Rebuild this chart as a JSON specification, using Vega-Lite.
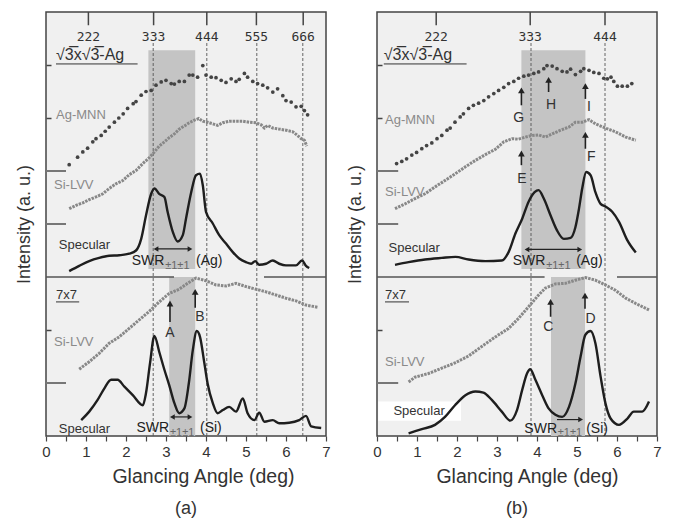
{
"$schema":"https://vega.github.io/schema/vega-lite/v6.json",
"padding":{"left":14,"top":10,"right":5,"bottom":3},
"config":{"view":{"fill":"#f0f0f0","stroke":"#444","strokeWidth":1.5},"font":"Liberation Sans","concat":{"spacing":14}},
"datasets":{
"a":[
{"k":"shade","x":2.56,"x2":3.73,"y":3.15,"y2":7.28},
{"k":"shade","x":3.08,"x2":3.73,"y":0,"y2":3},
{"k":"dash","x":2.68,"y":0,"y2":7.45},{"k":"dash","x":4.02,"y":0,"y2":7.45},{"k":"dash","x":5.27,"y":0,"y2":7.45},{"k":"dash","x":6.42,"y":0,"y2":7.45},
{"k":"div","x":0,"x2":3.2,"y":3},{"k":"div","x":5.45,"x2":7,"y":3},
{"k":"lt","x":0,"x2":0.5,"y":1},{"k":"lt","x":0,"x2":0.5,"y":4},{"k":"lt","x":0,"x2":0.5,"y":5},
{"k":"tt","x":1.06,"y":8,"y2":7.75},{"k":"tt","x":2.69,"y":8,"y2":7.75},{"k":"tt","x":4.02,"y":8,"y2":7.75},{"k":"tt","x":5.26,"y":8,"y2":7.75},{"k":"tt","x":6.43,"y":8,"y2":7.75},
{"k":"tl","x":1.06,"y":7.53,"t":"222"},{"k":"tl","x":2.69,"y":7.53,"t":"333"},{"k":"tl","x":4.02,"y":7.53,"t":"444"},{"k":"tl","x":5.26,"y":7.53,"t":"555"},{"k":"tl","x":6.43,"y":7.53,"t":"666"},
{"k":"ul","x":0.25,"x2":2.29,"y":7.02},{"k":"ul","x":0.25,"x2":0.83,"y":2.53},
{"k":"ag","x":0.58,"y":5.12},{"k":"ag","x":0.79,"y":5.26},{"k":"ag","x":0.92,"y":5.36},{"k":"ag","x":1.04,"y":5.43},{"k":"ag","x":1.17,"y":5.55},{"k":"ag","x":1.25,"y":5.61},{"k":"ag","x":1.38,"y":5.67},{"k":"ag","x":1.48,"y":5.75},{"k":"ag","x":1.58,"y":5.83},{"k":"ag","x":1.71,"y":5.92},{"k":"ag","x":1.82,"y":6.0},{"k":"ag","x":1.93,"y":6.08},{"k":"ag","x":2.04,"y":6.18},{"k":"ag","x":2.18,"y":6.27},{"k":"ag","x":2.25,"y":6.31},{"k":"ag","x":2.38,"y":6.43},{"k":"ag","x":2.5,"y":6.5},{"k":"ag","x":2.63,"y":6.52},{"k":"ag","x":2.75,"y":6.62},{"k":"ag","x":2.88,"y":6.68},{"k":"ag","x":3.0,"y":6.71},{"k":"ag","x":3.13,"y":6.65},{"k":"ag","x":3.21,"y":6.64},{"k":"ag","x":3.33,"y":6.69},{"k":"ag","x":3.46,"y":6.69},{"k":"ag","x":3.58,"y":6.81},{"k":"ag","x":3.67,"y":6.81},{"k":"ag","x":3.79,"y":6.77},{"k":"ag","x":3.92,"y":6.99},{"k":"ag","x":4.0,"y":6.81},{"k":"ag","x":4.13,"y":6.77},{"k":"ag","x":4.25,"y":6.76},{"k":"ag","x":4.38,"y":6.71},{"k":"ag","x":4.5,"y":6.67},{"k":"ag","x":4.63,"y":6.74},{"k":"ag","x":4.75,"y":6.69},{"k":"ag","x":4.83,"y":6.73},{"k":"ag","x":4.96,"y":6.84},{"k":"ag","x":5.04,"y":6.77},{"k":"ag","x":5.17,"y":6.69},{"k":"ag","x":5.29,"y":6.65},{"k":"ag","x":5.42,"y":6.62},{"k":"ag","x":5.54,"y":6.57},{"k":"ag","x":5.67,"y":6.49},{"k":"ag","x":5.79,"y":6.55},{"k":"ag","x":5.92,"y":6.42},{"k":"ag","x":6.0,"y":6.33},{"k":"ag","x":6.13,"y":6.3},{"k":"ag","x":6.25,"y":6.21},{"k":"ag","x":6.38,"y":6.22},{"k":"ag","x":6.46,"y":6.14},{"k":"ag","x":6.54,"y":6.06},
{"k":"si","g":"t","x":0.58,"y":4.29},{"k":"si","g":"t","x":0.75,"y":4.35},{"k":"si","g":"t","x":0.92,"y":4.4},{"k":"si","g":"t","x":1.08,"y":4.46},{"k":"si","g":"t","x":1.25,"y":4.51},{"k":"si","g":"t","x":1.42,"y":4.57},{"k":"si","g":"t","x":1.58,"y":4.67},{"k":"si","g":"t","x":1.75,"y":4.76},{"k":"si","g":"t","x":1.92,"y":4.82},{"k":"si","g":"t","x":2.08,"y":4.93},{"k":"si","g":"t","x":2.25,"y":5.01},{"k":"si","g":"t","x":2.42,"y":5.14},{"k":"si","g":"t","x":2.58,"y":5.25},{"k":"si","g":"t","x":2.71,"y":5.36},{"k":"si","g":"t","x":2.83,"y":5.47},{"k":"si","g":"t","x":2.96,"y":5.55},{"k":"si","g":"t","x":3.08,"y":5.63},{"k":"si","g":"t","x":3.21,"y":5.7},{"k":"si","g":"t","x":3.33,"y":5.79},{"k":"si","g":"t","x":3.46,"y":5.85},{"k":"si","g":"t","x":3.58,"y":5.91},{"k":"si","g":"t","x":3.71,"y":5.96},{"k":"si","g":"t","x":3.82,"y":5.99},{"k":"si","g":"t","x":3.92,"y":5.94},{"k":"si","g":"t","x":4.04,"y":5.92},{"k":"si","g":"t","x":4.17,"y":5.89},{"k":"si","g":"t","x":4.29,"y":5.86},{"k":"si","g":"t","x":4.42,"y":5.91},{"k":"si","g":"t","x":4.58,"y":5.94},{"k":"si","g":"t","x":4.75,"y":5.94},{"k":"si","g":"t","x":4.92,"y":5.94},{"k":"si","g":"t","x":5.08,"y":5.92},{"k":"si","g":"t","x":5.25,"y":5.91},{"k":"si","g":"t","x":5.38,"y":5.87},{"k":"si","g":"t","x":5.46,"y":5.81},{"k":"si","g":"t","x":5.54,"y":5.86},{"k":"si","g":"t","x":5.67,"y":5.81},{"k":"si","g":"t","x":5.83,"y":5.79},{"k":"si","g":"t","x":6.0,"y":5.77},{"k":"si","g":"t","x":6.17,"y":5.74},{"k":"si","g":"t","x":6.29,"y":5.67},{"k":"si","g":"t","x":6.38,"y":5.61},{"k":"si","g":"t","x":6.46,"y":5.58},{"k":"si","g":"t","x":6.52,"y":5.47},
{"k":"si","g":"b","x":0.83,"y":1.26},{"k":"si","g":"b","x":1.08,"y":1.4},{"k":"si","g":"b","x":1.33,"y":1.56},{"k":"si","g":"b","x":1.58,"y":1.75},{"k":"si","g":"b","x":1.83,"y":1.87},{"k":"si","g":"b","x":2.08,"y":2.03},{"k":"si","g":"b","x":2.33,"y":2.19},{"k":"si","g":"b","x":2.58,"y":2.35},{"k":"si","g":"b","x":2.83,"y":2.53},{"k":"si","g":"b","x":3.08,"y":2.69},{"k":"si","g":"b","x":3.33,"y":2.77},{"k":"si","g":"b","x":3.54,"y":2.88},{"k":"si","g":"b","x":3.75,"y":2.98},{"k":"si","g":"b","x":4.0,"y":2.93},{"k":"si","g":"b","x":4.25,"y":2.85},{"k":"si","g":"b","x":4.5,"y":2.83},{"k":"si","g":"b","x":4.75,"y":2.88},{"k":"si","g":"b","x":5.0,"y":2.82},{"k":"si","g":"b","x":5.25,"y":2.77},{"k":"si","g":"b","x":5.5,"y":2.72},{"k":"si","g":"b","x":5.75,"y":2.66},{"k":"si","g":"b","x":6.0,"y":2.6},{"k":"si","g":"b","x":6.25,"y":2.55},{"k":"si","g":"b","x":6.5,"y":2.47},{"k":"si","g":"b","x":6.79,"y":2.43},
{"k":"spec","g":"t","x":0.58,"y":3.11},{"k":"spec","g":"t","x":0.83,"y":3.21},{"k":"spec","g":"t","x":1.08,"y":3.3},{"k":"spec","g":"t","x":1.33,"y":3.36},{"k":"spec","g":"t","x":1.58,"y":3.4},{"k":"spec","g":"t","x":1.83,"y":3.41},{"k":"spec","g":"t","x":2.08,"y":3.44},{"k":"spec","g":"t","x":2.25,"y":3.5},{"k":"spec","g":"t","x":2.38,"y":3.72},{"k":"spec","g":"t","x":2.5,"y":4.16},{"k":"spec","g":"t","x":2.63,"y":4.57},{"k":"spec","g":"t","x":2.71,"y":4.67},{"k":"spec","g":"t","x":2.83,"y":4.57},{"k":"spec","g":"t","x":2.96,"y":4.51},{"k":"spec","g":"t","x":3.04,"y":4.23},{"k":"spec","g":"t","x":3.17,"y":3.85},{"k":"spec","g":"t","x":3.29,"y":3.67},{"k":"spec","g":"t","x":3.42,"y":3.79},{"k":"spec","g":"t","x":3.5,"y":4.1},{"k":"spec","g":"t","x":3.63,"y":4.6},{"k":"spec","g":"t","x":3.75,"y":4.92},{"k":"spec","g":"t","x":3.85,"y":4.95},{"k":"spec","g":"t","x":3.92,"y":4.73},{"k":"spec","g":"t","x":4.0,"y":4.23},{"k":"spec","g":"t","x":4.17,"y":4.01},{"k":"spec","g":"t","x":4.33,"y":3.79},{"k":"spec","g":"t","x":4.5,"y":3.63},{"k":"spec","g":"t","x":4.67,"y":3.47},{"k":"spec","g":"t","x":4.83,"y":3.35},{"k":"spec","g":"t","x":5.0,"y":3.28},{"k":"spec","g":"t","x":5.13,"y":3.25},{"k":"spec","g":"t","x":5.23,"y":3.3},{"k":"spec","g":"t","x":5.33,"y":3.23},{"k":"spec","g":"t","x":5.5,"y":3.25},{"k":"spec","g":"t","x":5.67,"y":3.31},{"k":"spec","g":"t","x":5.83,"y":3.25},{"k":"spec","g":"t","x":6.0,"y":3.22},{"k":"spec","g":"t","x":6.25,"y":3.22},{"k":"spec","g":"t","x":6.4,"y":3.31},{"k":"spec","g":"t","x":6.5,"y":3.21},{"k":"spec","g":"t","x":6.58,"y":3.17},
{"k":"spec","g":"b","x":0.88,"y":0.3},{"k":"spec","g":"b","x":1.08,"y":0.46},{"k":"spec","g":"b","x":1.29,"y":0.68},{"k":"spec","g":"b","x":1.46,"y":0.9},{"k":"spec","g":"b","x":1.63,"y":1.06},{"k":"spec","g":"b","x":1.79,"y":1.06},{"k":"spec","g":"b","x":1.96,"y":0.93},{"k":"spec","g":"b","x":2.17,"y":0.77},{"k":"spec","g":"b","x":2.42,"y":0.58},{"k":"spec","g":"b","x":2.5,"y":0.81},{"k":"spec","g":"b","x":2.6,"y":1.37},{"k":"spec","g":"b","x":2.71,"y":1.89},{"k":"spec","g":"b","x":2.83,"y":1.59},{"k":"spec","g":"b","x":2.96,"y":1.25},{"k":"spec","g":"b","x":3.08,"y":0.96},{"k":"spec","g":"b","x":3.21,"y":0.62},{"k":"spec","g":"b","x":3.33,"y":0.43},{"k":"spec","g":"b","x":3.46,"y":0.52},{"k":"spec","g":"b","x":3.57,"y":0.99},{"k":"spec","g":"b","x":3.67,"y":1.62},{"k":"spec","g":"b","x":3.77,"y":1.98},{"k":"spec","g":"b","x":3.85,"y":1.87},{"k":"spec","g":"b","x":3.96,"y":1.37},{"k":"spec","g":"b","x":4.04,"y":0.99},{"k":"spec","g":"b","x":4.17,"y":0.62},{"k":"spec","g":"b","x":4.29,"y":0.43},{"k":"spec","g":"b","x":4.42,"y":0.49},{"k":"spec","g":"b","x":4.58,"y":0.55},{"k":"spec","g":"b","x":4.75,"y":0.46},{"k":"spec","g":"b","x":4.92,"y":0.71},{"k":"spec","g":"b","x":5.04,"y":0.43},{"k":"spec","g":"b","x":5.21,"y":0.3},{"k":"spec","g":"b","x":5.33,"y":0.44},{"k":"spec","g":"b","x":5.46,"y":0.27},{"k":"spec","g":"b","x":5.67,"y":0.3},{"k":"spec","g":"b","x":5.83,"y":0.24},{"k":"spec","g":"b","x":6.08,"y":0.25},{"k":"spec","g":"b","x":6.33,"y":0.3},{"k":"spec","g":"b","x":6.5,"y":0.38},{"k":"spec","g":"b","x":6.63,"y":0.18},{"k":"spec","g":"b","x":6.88,"y":0.15},
{"k":"ar","x":3.1,"y":2.15,"y2":2.5},{"k":"tu","x":3.1,"y":2.5},
{"k":"ar","x":3.73,"y":2.42,"y2":2.72},{"k":"tu","x":3.73,"y":2.72},
{"k":"let","x":3.1,"y":1.94,"t":"A"},{"k":"let","x":3.85,"y":2.25,"t":"B"},
{"k":"ah","x":2.75,"x2":3.6,"y":3.53},{"k":"tL","x":2.75,"y":3.53},{"k":"tR","x":3.6,"y":3.53},
{"k":"ah","x":3.16,"x2":3.6,"y":0.36},{"k":"tL","x":3.16,"y":0.36},{"k":"tR","x":3.6,"y":0.36},
{"k":"sw","x":2.96,"y":3.3,"t":"SWR"},{"k":"ss","x":2.98,"y":3.21,"t":"±1±1"},{"k":"sr","x":3.75,"y":3.3,"t":"(Ag)"},
{"k":"sw","x":3.08,"y":0.15,"t":"SWR"},{"k":"ss","x":3.1,"y":0.06,"t":"±1±1"},{"k":"sr","x":3.85,"y":0.15,"t":"(Si)"},
{"k":"lg","x":0.25,"y":6.06,"t":"Ag-MNN"},{"k":"lg","x":0.2,"y":4.73,"t":"Si-LVV"},{"k":"lg","x":0.2,"y":1.78,"t":"Si-LVV"},
{"k":"lh","x":0.25,"y":7.18,"t":"√3̅x√3̅-Ag"},{"k":"ld","x":0.32,"y":3.61,"t":"Specular"},{"k":"ld","x":0.25,"y":2.66,"t":"7x7"},{"k":"ld","x":0.32,"y":0.14,"t":"Specular"}
],
"b":[
{"k":"shade","x":3.61,"x2":5.21,"y":3.15,"y2":7.28},
{"k":"shade","x":4.35,"x2":5.2,"y":0,"y2":3},
{"k":"wbox","x":0.03,"x2":2.1,"y":0.29,"y2":0.65},
{"k":"dash","x":3.85,"y":0,"y2":7.45},{"k":"dash","x":5.7,"y":0,"y2":7.45},
{"k":"div","x":0,"x2":4.19,"y":3},{"k":"div","x":6.0,"x2":7,"y":3},
{"k":"lt","x":0,"x2":0.53,"y":1},{"k":"lt","x":0,"x2":0.53,"y":4},{"k":"lt","x":0,"x2":0.53,"y":5},
{"k":"tt","x":1.48,"y":8,"y2":7.75},{"k":"tt","x":3.83,"y":8,"y2":7.75},{"k":"tt","x":5.7,"y":8,"y2":7.75},
{"k":"tl","x":1.48,"y":7.53,"t":"222"},{"k":"tl","x":3.83,"y":7.53,"t":"333"},{"k":"tl","x":5.7,"y":7.53,"t":"444"},
{"k":"ul","x":0.17,"x2":2.24,"y":7.02},{"k":"ul","x":0.2,"x2":0.8,"y":2.53},
{"k":"ag","x":0.49,"y":5.14},{"k":"ag","x":0.62,"y":5.18},{"k":"ag","x":0.74,"y":5.23},{"k":"ag","x":0.87,"y":5.3},{"k":"ag","x":0.99,"y":5.35},{"k":"ag","x":1.12,"y":5.42},{"k":"ag","x":1.24,"y":5.48},{"k":"ag","x":1.37,"y":5.53},{"k":"ag","x":1.5,"y":5.61},{"k":"ag","x":1.62,"y":5.67},{"k":"ag","x":1.75,"y":5.77},{"k":"ag","x":1.83,"y":5.81},{"k":"ag","x":1.95,"y":5.92},{"k":"ag","x":2.08,"y":6.02},{"k":"ag","x":2.16,"y":6.08},{"k":"ag","x":2.29,"y":6.18},{"k":"ag","x":2.41,"y":6.24},{"k":"ag","x":2.54,"y":6.28},{"k":"ag","x":2.67,"y":6.33},{"k":"ag","x":2.79,"y":6.4},{"k":"ag","x":2.92,"y":6.46},{"k":"ag","x":3.04,"y":6.52},{"k":"ag","x":3.17,"y":6.58},{"k":"ag","x":3.29,"y":6.65},{"k":"ag","x":3.42,"y":6.69},{"k":"ag","x":3.54,"y":6.75},{"k":"ag","x":3.67,"y":6.79},{"k":"ag","x":3.79,"y":6.81},{"k":"ag","x":3.92,"y":6.84},{"k":"ag","x":4.04,"y":6.87},{"k":"ag","x":4.17,"y":6.93},{"k":"ag","x":4.25,"y":6.99},{"k":"ag","x":4.38,"y":6.98},{"k":"ag","x":4.5,"y":6.93},{"k":"ag","x":4.63,"y":6.88},{"k":"ag","x":4.75,"y":6.87},{"k":"ag","x":4.84,"y":6.92},{"k":"ag","x":4.96,"y":6.82},{"k":"ag","x":5.09,"y":6.88},{"k":"ag","x":5.17,"y":6.93},{"k":"ag","x":5.3,"y":6.9},{"k":"ag","x":5.42,"y":6.86},{"k":"ag","x":5.55,"y":6.84},{"k":"ag","x":5.67,"y":6.75},{"k":"ag","x":5.76,"y":6.74},{"k":"ag","x":5.85,"y":6.77},{"k":"ag","x":5.92,"y":6.69},{"k":"ag","x":6.01,"y":6.6},{"k":"ag","x":6.13,"y":6.6},{"k":"ag","x":6.26,"y":6.6},{"k":"ag","x":6.37,"y":6.65},
{"k":"si","g":"t","x":0.45,"y":4.29},{"k":"si","g":"t","x":0.7,"y":4.38},{"k":"si","g":"t","x":0.95,"y":4.48},{"k":"si","g":"t","x":1.2,"y":4.57},{"k":"si","g":"t","x":1.45,"y":4.7},{"k":"si","g":"t","x":1.7,"y":4.82},{"k":"si","g":"t","x":1.96,"y":4.95},{"k":"si","g":"t","x":2.21,"y":5.08},{"k":"si","g":"t","x":2.46,"y":5.2},{"k":"si","g":"t","x":2.71,"y":5.31},{"k":"si","g":"t","x":2.96,"y":5.41},{"k":"si","g":"t","x":3.17,"y":5.55},{"k":"si","g":"t","x":3.38,"y":5.61},{"k":"si","g":"t","x":3.54,"y":5.6},{"k":"si","g":"t","x":3.71,"y":5.64},{"k":"si","g":"t","x":3.88,"y":5.67},{"k":"si","g":"t","x":4.04,"y":5.68},{"k":"si","g":"t","x":4.21,"y":5.64},{"k":"si","g":"t","x":4.38,"y":5.7},{"k":"si","g":"t","x":4.59,"y":5.77},{"k":"si","g":"t","x":4.8,"y":5.83},{"k":"si","g":"t","x":4.96,"y":5.92},{"k":"si","g":"t","x":5.13,"y":5.92},{"k":"si","g":"t","x":5.3,"y":5.97},{"k":"si","g":"t","x":5.46,"y":5.89},{"k":"si","g":"t","x":5.71,"y":5.81},{"k":"si","g":"t","x":5.96,"y":5.74},{"k":"si","g":"t","x":6.22,"y":5.64},{"k":"si","g":"t","x":6.47,"y":5.58},
{"k":"si","g":"b","x":0.79,"y":1.02},{"k":"si","g":"b","x":0.95,"y":1.11},{"k":"si","g":"b","x":1.29,"y":1.18},{"k":"si","g":"b","x":1.62,"y":1.28},{"k":"si","g":"b","x":1.95,"y":1.38},{"k":"si","g":"b","x":2.29,"y":1.51},{"k":"si","g":"b","x":2.62,"y":1.69},{"k":"si","g":"b","x":2.96,"y":1.87},{"k":"si","g":"b","x":3.29,"y":2.03},{"k":"si","g":"b","x":3.54,"y":2.22},{"k":"si","g":"b","x":3.79,"y":2.44},{"k":"si","g":"b","x":4.04,"y":2.66},{"k":"si","g":"b","x":4.21,"y":2.79},{"k":"si","g":"b","x":4.46,"y":2.87},{"k":"si","g":"b","x":4.71,"y":2.88},{"k":"si","g":"b","x":4.96,"y":2.94},{"k":"si","g":"b","x":5.21,"y":2.99},{"k":"si","g":"b","x":5.46,"y":2.94},{"k":"si","g":"b","x":5.71,"y":2.85},{"k":"si","g":"b","x":5.96,"y":2.75},{"k":"si","g":"b","x":6.22,"y":2.6},{"k":"si","g":"b","x":6.47,"y":2.5},{"k":"si","g":"b","x":6.8,"y":2.38},
{"k":"spec","g":"t","x":0.45,"y":3.23},{"k":"spec","g":"t","x":0.79,"y":3.28},{"k":"spec","g":"t","x":1.2,"y":3.33},{"k":"spec","g":"t","x":1.62,"y":3.36},{"k":"spec","g":"t","x":1.96,"y":3.38},{"k":"spec","g":"t","x":2.29,"y":3.33},{"k":"spec","g":"t","x":2.71,"y":3.3},{"k":"spec","g":"t","x":3.12,"y":3.31},{"k":"spec","g":"t","x":3.29,"y":3.47},{"k":"spec","g":"t","x":3.46,"y":3.82},{"k":"spec","g":"t","x":3.63,"y":4.1},{"k":"spec","g":"t","x":3.79,"y":4.42},{"k":"spec","g":"t","x":3.94,"y":4.6},{"k":"spec","g":"t","x":4.04,"y":4.64},{"k":"spec","g":"t","x":4.17,"y":4.48},{"k":"spec","g":"t","x":4.34,"y":4.16},{"k":"spec","g":"t","x":4.5,"y":3.88},{"k":"spec","g":"t","x":4.67,"y":3.72},{"k":"spec","g":"t","x":4.84,"y":3.74},{"k":"spec","g":"t","x":4.96,"y":3.94},{"k":"spec","g":"t","x":5.05,"y":4.29},{"k":"spec","g":"t","x":5.13,"y":4.67},{"k":"spec","g":"t","x":5.23,"y":4.98},{"k":"spec","g":"t","x":5.34,"y":4.92},{"k":"spec","g":"t","x":5.46,"y":4.6},{"k":"spec","g":"t","x":5.59,"y":4.38},{"k":"spec","g":"t","x":5.71,"y":4.33},{"k":"spec","g":"t","x":5.88,"y":4.23},{"k":"spec","g":"t","x":6.05,"y":4.04},{"k":"spec","g":"t","x":6.26,"y":3.69},{"k":"spec","g":"t","x":6.47,"y":3.46},
{"k":"spec","g":"b","x":0.79,"y":0.05},{"k":"spec","g":"b","x":1.12,"y":0.13},{"k":"spec","g":"b","x":1.45,"y":0.21},{"k":"spec","g":"b","x":1.7,"y":0.36},{"k":"spec","g":"b","x":1.95,"y":0.58},{"k":"spec","g":"b","x":2.21,"y":0.77},{"k":"spec","g":"b","x":2.46,"y":0.84},{"k":"spec","g":"b","x":2.66,"y":0.82},{"k":"spec","g":"b","x":2.87,"y":0.68},{"k":"spec","g":"b","x":3.12,"y":0.46},{"k":"spec","g":"b","x":3.33,"y":0.29},{"k":"spec","g":"b","x":3.5,"y":0.49},{"k":"spec","g":"b","x":3.63,"y":0.87},{"k":"spec","g":"b","x":3.75,"y":1.18},{"k":"spec","g":"b","x":3.83,"y":1.26},{"k":"spec","g":"b","x":3.96,"y":1.06},{"k":"spec","g":"b","x":4.13,"y":0.77},{"k":"spec","g":"b","x":4.29,"y":0.52},{"k":"spec","g":"b","x":4.46,"y":0.4},{"k":"spec","g":"b","x":4.63,"y":0.36},{"k":"spec","g":"b","x":4.8,"y":0.55},{"k":"spec","g":"b","x":4.96,"y":0.99},{"k":"spec","g":"b","x":5.09,"y":1.5},{"k":"spec","g":"b","x":5.21,"y":1.91},{"k":"spec","g":"b","x":5.34,"y":1.98},{"k":"spec","g":"b","x":5.46,"y":1.75},{"k":"spec","g":"b","x":5.59,"y":1.12},{"k":"spec","g":"b","x":5.71,"y":0.62},{"k":"spec","g":"b","x":5.84,"y":0.33},{"k":"spec","g":"b","x":6.05,"y":0.21},{"k":"spec","g":"b","x":6.26,"y":0.33},{"k":"spec","g":"b","x":6.42,"y":0.46},{"k":"spec","g":"b","x":6.63,"y":0.46},{"k":"spec","g":"b","x":6.8,"y":0.65},
{"k":"ar","x":3.61,"y":6.24,"y2":6.52},{"k":"tu","x":3.61,"y":6.52},
{"k":"ar","x":4.29,"y":6.49,"y2":6.72},{"k":"tu","x":4.29,"y":6.72},
{"k":"ar","x":5.21,"y":6.36,"y2":6.6},{"k":"tu","x":5.21,"y":6.6},
{"k":"ar","x":3.61,"y":5.11,"y2":5.33},{"k":"tu","x":3.61,"y":5.33},
{"k":"ar","x":5.21,"y":5.42,"y2":5.68},{"k":"tu","x":5.21,"y":5.68},
{"k":"ar","x":4.34,"y":2.25,"y2":2.53},{"k":"tu","x":4.34,"y":2.53},
{"k":"ar","x":5.2,"y":2.4,"y2":2.65},{"k":"tu","x":5.2,"y":2.65},
{"k":"let","x":3.54,"y":6.0,"t":"G"},{"k":"let","x":4.35,"y":6.25,"t":"H"},{"k":"let","x":5.3,"y":6.21,"t":"I"},{"k":"let","x":3.62,"y":4.85,"t":"E"},{"k":"let","x":5.36,"y":5.26,"t":"F"},{"k":"let","x":4.28,"y":2.06,"t":"C"},{"k":"let","x":5.34,"y":2.21,"t":"D"},
{"k":"ah","x":3.75,"x2":5.07,"y":3.52},{"k":"tL","x":3.75,"y":3.52},{"k":"tR","x":5.07,"y":3.52},
{"k":"ah","x":4.5,"x2":5.09,"y":0.31},{"k":"tR","x":5.09,"y":0.31},
{"k":"sw","x":4.21,"y":3.3,"t":"SWR"},{"k":"ss","x":4.23,"y":3.21,"t":"±1±1"},{"k":"sr","x":4.98,"y":3.3,"t":"(Ag)"},
{"k":"sw","x":4.5,"y":0.14,"t":"SWR"},{"k":"ss","x":4.52,"y":0.05,"t":"±1±1"},{"k":"sr","x":5.23,"y":0.14,"t":"(Si)"},
{"k":"lg","x":0.2,"y":5.96,"t":"Ag-MNN"},{"k":"lg","x":0.2,"y":4.6,"t":"Si-LVV"},{"k":"lg","x":0.2,"y":1.4,"t":"Si-LVV"},
{"k":"lh","x":0.17,"y":7.18,"t":"√3̅x√3̅-Ag"},{"k":"ld","x":0.29,"y":3.55,"t":"Specular"},{"k":"ld","x":0.2,"y":2.66,"t":"7x7"},{"k":"ld","x":0.41,"y":0.48,"t":"Specular"}
]
},
"hconcat":[
{
"width":280,"height":424,
"data":{"name":"a"},
"title":{"text":"(a)","orient":"bottom","anchor":"middle","fontSize":18,"fontWeight":"normal","color":"#333","offset":14},
"encoding":{
"x":{"field":"x","type":"quantitative","scale":{"domain":[0,7],"nice":false,"zero":false},"axis":{"title":"Glancing Angle (deg)","titleX":157,"titleFontSize":19.5,"titleFontWeight":"normal","titleColor":"#333","labelFontSize":15,"labelColor":"#333","values":[0,0.5,1,1.5,2,2.5,3,3.5,4,4.5,5,5.5,6,6.5,7],"labelExpr":"datum.value % 1 === 0 ? format(datum.value, 'd') : ''","tickSize":5,"tickColor":"#444","tickWidth":1.2,"domain":false,"grid":false,"labelPadding":3,"titlePadding":8,"labelFlush":false}},
"y":{"field":"y","type":"quantitative","scale":{"domain":[0,8],"nice":false,"zero":false},"axis":{"title":"Intensity (a. u.)","titleFontSize":18,"titleFontWeight":"normal","titleColor":"#333","labels":false,"domain":false,"grid":false,"values":[2,6,7],"tickSize":-5,"tickColor":"#444","tickWidth":1.5,"titlePadding":12}}
},
"layer":[
{"transform":[{"filter":"datum.k==='shade'"}],"mark":{"type":"rect","color":"#c4c4c4"},"encoding":{"x2":{"field":"x2"},"y2":{"field":"y2"}}},
{"transform":[{"filter":"datum.k==='wbox'"}],"mark":{"type":"rect","color":"#ffffff"},"encoding":{"x2":{"field":"x2"},"y2":{"field":"y2"}}},
{"transform":[{"filter":"datum.k==='dash'"}],"mark":{"type":"rule","color":"#555","strokeWidth":0.9,"strokeDash":[3,2]},"encoding":{"y2":{"field":"y2"}}},
{"transform":[{"filter":"datum.k==='div'"}],"mark":{"type":"rule","color":"#555","strokeWidth":1.6},"encoding":{"x2":{"field":"x2"}}},
{"transform":[{"filter":"datum.k==='lt'"}],"mark":{"type":"rule","color":"#777","strokeWidth":2},"encoding":{"x2":{"field":"x2"}}},
{"transform":[{"filter":"datum.k==='tt'"}],"mark":{"type":"rule","color":"#444","strokeWidth":1.5},"encoding":{"y2":{"field":"y2"}}},
{"transform":[{"filter":"datum.k==='ul'"}],"mark":{"type":"rule","color":"#333","strokeWidth":1},"encoding":{"x2":{"field":"x2"}}},
{"transform":[{"filter":"datum.k==='tl'"}],"mark":{"type":"text","fontSize":13,"color":"#333","align":"center","baseline":"middle","font":"DejaVu Sans Mono"},"encoding":{"text":{"field":"t"}}},
{"transform":[{"filter":"datum.k==='ag'"}],"mark":{"type":"point","filled":true,"size":14,"color":"#444","opacity":1},"encoding":{}},
{"transform":[{"filter":"datum.k==='si'"}],"mark":{"type":"line","color":"#888","strokeWidth":3,"strokeDash":[2.5,1]},"encoding":{"detail":{"field":"g"}}},
{"transform":[{"filter":"datum.k==='spec'"}],"mark":{"type":"line","color":"#1e1e1e","strokeWidth":2.4,"interpolate":"monotone"},"encoding":{"detail":{"field":"g"}}},
{"transform":[{"filter":"datum.k==='ar'"}],"mark":{"type":"rule","color":"#222","strokeWidth":1.6},"encoding":{"y2":{"field":"y2"}}},
{"transform":[{"filter":"datum.k==='ah'"}],"mark":{"type":"rule","color":"#222","strokeWidth":1.2},"encoding":{"x2":{"field":"x2"}}},
{"transform":[{"filter":"datum.k==='tu'"}],"mark":{"type":"point","shape":"triangle-up","filled":true,"size":45,"color":"#222","opacity":1},"encoding":{}},
{"transform":[{"filter":"datum.k==='tL'"}],"mark":{"type":"point","shape":"triangle-left","filled":true,"size":30,"color":"#222","opacity":1},"encoding":{}},
{"transform":[{"filter":"datum.k==='tR'"}],"mark":{"type":"point","shape":"triangle-right","filled":true,"size":30,"color":"#222","opacity":1},"encoding":{}},
{"transform":[{"filter":"datum.k==='lg'"}],"mark":{"type":"text","fontSize":13,"color":"#8a8a8a","align":"left","baseline":"middle"},"encoding":{"text":{"field":"t"}}},
{"transform":[{"filter":"datum.k==='ld'"}],"mark":{"type":"text","fontSize":13,"color":"#333","align":"left","baseline":"middle"},"encoding":{"text":{"field":"t"}}},
{"transform":[{"filter":"datum.k==='lh'"}],"mark":{"type":"text","fontSize":16,"color":"#333","align":"left","baseline":"middle","letterSpacing":1.2},"encoding":{"text":{"field":"t"}}},
{"transform":[{"filter":"datum.k==='let'"}],"mark":{"type":"text","fontSize":14,"color":"#333","align":"center","baseline":"middle"},"encoding":{"text":{"field":"t"}}},
{"transform":[{"filter":"datum.k==='sw'"}],"mark":{"type":"text","fontSize":14,"color":"#222","align":"right","baseline":"middle"},"encoding":{"text":{"field":"t"}}},
{"transform":[{"filter":"datum.k==='ss'"}],"mark":{"type":"text","fontSize":11,"color":"#666","align":"left","baseline":"middle","letterSpacing":2},"encoding":{"text":{"field":"t"}}},
{"transform":[{"filter":"datum.k==='sr'"}],"mark":{"type":"text","fontSize":14,"color":"#222","align":"left","baseline":"middle"},"encoding":{"text":{"field":"t"}}}
]
},
{
"width":280,"height":424,
"data":{"name":"b"},
"title":{"text":"(b)","orient":"bottom","anchor":"middle","fontSize":18,"fontWeight":"normal","color":"#333","offset":14},
"encoding":{
"x":{"field":"x","type":"quantitative","scale":{"domain":[0,7],"nice":false,"zero":false},"axis":{"title":"Glancing Angle (deg)","titleX":150,"titleFontSize":19.5,"titleFontWeight":"normal","titleColor":"#333","labelFontSize":15,"labelColor":"#333","values":[0,0.5,1,1.5,2,2.5,3,3.5,4,4.5,5,5.5,6,6.5,7],"labelExpr":"datum.value % 1 === 0 ? format(datum.value, 'd') : ''","tickSize":5,"tickColor":"#444","tickWidth":1.2,"domain":false,"grid":false,"labelPadding":3,"titlePadding":8,"labelFlush":false}},
"y":{"field":"y","type":"quantitative","scale":{"domain":[0,8],"nice":false,"zero":false},"axis":{"title":"Intensity (a. u.)","titleFontSize":18,"titleFontWeight":"normal","titleColor":"#333","labels":false,"domain":false,"grid":false,"values":[2,6,7],"tickSize":-5,"tickColor":"#444","tickWidth":1.5,"titlePadding":12}}
},
"layer":[
{"transform":[{"filter":"datum.k==='shade'"}],"mark":{"type":"rect","color":"#c4c4c4"},"encoding":{"x2":{"field":"x2"},"y2":{"field":"y2"}}},
{"transform":[{"filter":"datum.k==='wbox'"}],"mark":{"type":"rect","color":"#ffffff"},"encoding":{"x2":{"field":"x2"},"y2":{"field":"y2"}}},
{"transform":[{"filter":"datum.k==='dash'"}],"mark":{"type":"rule","color":"#555","strokeWidth":0.9,"strokeDash":[3,2]},"encoding":{"y2":{"field":"y2"}}},
{"transform":[{"filter":"datum.k==='div'"}],"mark":{"type":"rule","color":"#555","strokeWidth":1.6},"encoding":{"x2":{"field":"x2"}}},
{"transform":[{"filter":"datum.k==='lt'"}],"mark":{"type":"rule","color":"#777","strokeWidth":2},"encoding":{"x2":{"field":"x2"}}},
{"transform":[{"filter":"datum.k==='tt'"}],"mark":{"type":"rule","color":"#444","strokeWidth":1.5},"encoding":{"y2":{"field":"y2"}}},
{"transform":[{"filter":"datum.k==='ul'"}],"mark":{"type":"rule","color":"#333","strokeWidth":1},"encoding":{"x2":{"field":"x2"}}},
{"transform":[{"filter":"datum.k==='tl'"}],"mark":{"type":"text","fontSize":13,"color":"#333","align":"center","baseline":"middle","font":"DejaVu Sans Mono"},"encoding":{"text":{"field":"t"}}},
{"transform":[{"filter":"datum.k==='ag'"}],"mark":{"type":"point","filled":true,"size":14,"color":"#444","opacity":1},"encoding":{}},
{"transform":[{"filter":"datum.k==='si'"}],"mark":{"type":"line","color":"#888","strokeWidth":3,"strokeDash":[2.5,1]},"encoding":{"detail":{"field":"g"}}},
{"transform":[{"filter":"datum.k==='spec'"}],"mark":{"type":"line","color":"#1e1e1e","strokeWidth":2.4,"interpolate":"monotone"},"encoding":{"detail":{"field":"g"}}},
{"transform":[{"filter":"datum.k==='ar'"}],"mark":{"type":"rule","color":"#222","strokeWidth":1.6},"encoding":{"y2":{"field":"y2"}}},
{"transform":[{"filter":"datum.k==='ah'"}],"mark":{"type":"rule","color":"#222","strokeWidth":1.2},"encoding":{"x2":{"field":"x2"}}},
{"transform":[{"filter":"datum.k==='tu'"}],"mark":{"type":"point","shape":"triangle-up","filled":true,"size":45,"color":"#222","opacity":1},"encoding":{}},
{"transform":[{"filter":"datum.k==='tL'"}],"mark":{"type":"point","shape":"triangle-left","filled":true,"size":30,"color":"#222","opacity":1},"encoding":{}},
{"transform":[{"filter":"datum.k==='tR'"}],"mark":{"type":"point","shape":"triangle-right","filled":true,"size":30,"color":"#222","opacity":1},"encoding":{}},
{"transform":[{"filter":"datum.k==='lg'"}],"mark":{"type":"text","fontSize":13,"color":"#8a8a8a","align":"left","baseline":"middle"},"encoding":{"text":{"field":"t"}}},
{"transform":[{"filter":"datum.k==='ld'"}],"mark":{"type":"text","fontSize":13,"color":"#333","align":"left","baseline":"middle"},"encoding":{"text":{"field":"t"}}},
{"transform":[{"filter":"datum.k==='lh'"}],"mark":{"type":"text","fontSize":16,"color":"#333","align":"left","baseline":"middle","letterSpacing":1.2},"encoding":{"text":{"field":"t"}}},
{"transform":[{"filter":"datum.k==='let'"}],"mark":{"type":"text","fontSize":14,"color":"#333","align":"center","baseline":"middle"},"encoding":{"text":{"field":"t"}}},
{"transform":[{"filter":"datum.k==='sw'"}],"mark":{"type":"text","fontSize":14,"color":"#222","align":"right","baseline":"middle"},"encoding":{"text":{"field":"t"}}},
{"transform":[{"filter":"datum.k==='ss'"}],"mark":{"type":"text","fontSize":11,"color":"#666","align":"left","baseline":"middle","letterSpacing":2},"encoding":{"text":{"field":"t"}}},
{"transform":[{"filter":"datum.k==='sr'"}],"mark":{"type":"text","fontSize":14,"color":"#222","align":"left","baseline":"middle"},"encoding":{"text":{"field":"t"}}}
]
}
]
}
